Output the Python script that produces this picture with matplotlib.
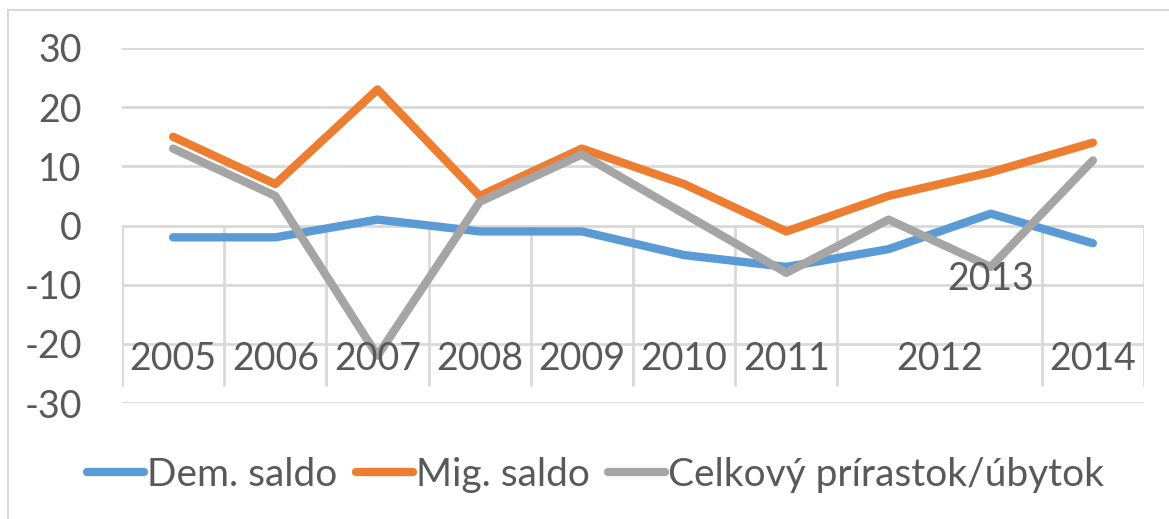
import matplotlib
matplotlib.use("Agg")
import matplotlib.pyplot as plt
from matplotlib.patches import Rectangle

categories = ["2005", "2006", "2007", "2008", "2009", "2010", "2011", "2012", "2013", "2014"]
dem_saldo = [-2, -2, 1, -1, -1, -5, -7, -4, 2, -3]
mig_saldo = [15, 7, 23, 5, 13, 7, -1, 5, 9, 14]
celkovy = [13, 5, -22, 4, 12, 2, -8, 1, -7, 11]
series_names = ["Dem. saldo", "Mig. saldo", "Celkový prírastok/úbytok"]
y_ticks = [-30, -20, -10, 0, 10, 20, 30]

colors = ["#5B9BD5", "#ED7D31", "#A5A5A5"]
text_color = "#595959"
grid_color = "#D9D9D9"
FONT = ["Lato", "DejaVu Sans"]
FS = 27
LFS = 28

W, H = 1169, 519
fig = plt.figure(figsize=(W / 100, H / 100), dpi=100)
plt.rcParams['font.family'] = FONT

# outer chart border
fig.add_artist(Rectangle((8 / W, -0.1), 1.2, 1 - 10 / H + 0.1, transform=fig.transFigure,
                         fill=False, edgecolor=grid_color, linewidth=1.5))

left, right = 122 / W, 1144 / W
bottom, top = (H - 403) / H, (H - 48) / H
ax = fig.add_axes([left, bottom, right - left, top - bottom])
ax.set_xlim(-0.5, len(categories) - 0.5)
ax.set_ylim(-30, 30)
for s in ax.spines.values():
    s.set_visible(False)

for yv in y_ticks:
    ax.axhline(yv, color=grid_color, linewidth=2.0, zorder=1)

# category separators (hanging below the zero line)
sep_x = [i - 0.5 for i in range(len(categories) + 1)]
for i, xv in enumerate(sep_x):
    if i == 8:
        continue
    ax.plot([xv, xv], [0, -27.2], color=grid_color, linewidth=2.0, zorder=1,
            solid_capstyle='butt')

x = list(range(len(categories)))
for vals, c, name in zip([dem_saldo, mig_saldo, celkovy], colors, series_names):
    ax.plot(x, vals, color=c, linewidth=6.0, solid_capstyle='round',
            solid_joinstyle='round', zorder=3, label=name)

ax.set_yticks(y_ticks)
ax.set_yticklabels([str(v) for v in y_ticks])
ax.tick_params(axis='y', length=0, pad=29, labelsize=FS, labelcolor=text_color)
ax.set_xticks([])

# category labels as rendered in the original
for i, lab in enumerate(categories):
    xp, yp = i, -22.6
    if lab == "2012":
        xp = i + 0.5
    elif lab == "2013":
        xp, yp = i, -9.1
    ax.text(xp, yp, lab, ha='center', va='center', fontsize=FS, color=text_color,
            zorder=4)

leg = fig.legend(loc='center', bbox_to_anchor=(595.5 / W, 1 - 475 / H), ncol=3,
                 frameon=False, fontsize=LFS, handlelength=1.47, handletextpad=0.08,
                 columnspacing=0.46, labelcolor=text_color)
for h in leg.legend_handles:
    h.set_solid_capstyle('round')

fig.savefig("out.png", dpi=100)
